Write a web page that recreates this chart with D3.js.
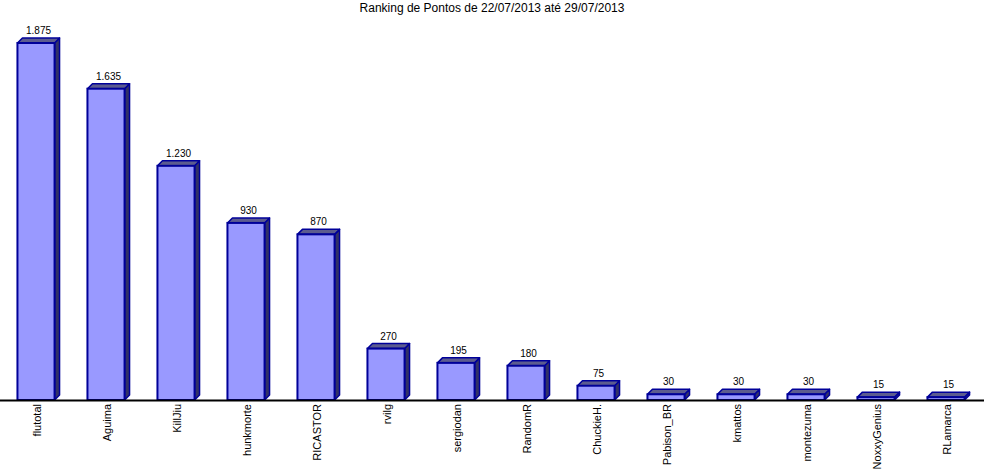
<!DOCTYPE html>
<html><head><meta charset="utf-8">
<script src="https://cdn.jsdelivr.net/npm/d3@7"></script>
<style>html,body{margin:0;padding:0;background:#fff;}svg{display:block;}</style>
</head><body>
<svg id="c" width="984" height="473"></svg>
<script>
const title = "Ranking de Pontos de 22/07/2013 até 29/07/2013";
const categories = ["flutotal","Aguima","KillJiu","hunkmorte","RICASTOR","rvilg","sergiodan","RandomR","ChuckieH.","Pabison_BR","kmattos","montezuma","NoxxyGenius","RLamarca"];
const values = [1875,1635,1230,930,870,270,195,180,75,30,30,30,15,15];

const W = 984, H = 473, baseY = 400, topY = 43, depth = 5;
const svg = d3.select("#c");
const x = d3.scaleBand().domain(categories).range([1, 981]).paddingInner(0.47).paddingOuter(0.235);
const y = d3.scaleLinear().domain([0, d3.max(values)]).range([baseY, topY]);
const fmt = d3.formatLocale({decimal: ",", thousands: ".", grouping: [3], currency: ["", ""]}).format(",d");

svg.append("text").attr("x", W/2).attr("y", 12).attr("text-anchor","middle")
  .attr("font-family","Liberation Sans, Arial, sans-serif").attr("font-size", 12).text(title);

const data = categories.map((c,i)=>({c, v: values[i]}));
const g = svg.append("g");
const bw = x.bandwidth();
const stroke = "#000099";
data.forEach(d=>{
  const x0 = x(d.c), x1 = x0 + bw, y1 = y(d.v), y0 = y(0);
  g.append("polygon").attr("points", [[x1,y1],[x1+depth,y1-depth],[x1+depth,y0-depth],[x1,y0]].join(" "))
    .attr("fill","#333366").attr("stroke",stroke).attr("stroke-width",1.5).attr("stroke-linejoin","round");
  g.append("polygon").attr("points", [[x0,y1],[x0+depth,y1-depth],[x1+depth,y1-depth],[x1,y1]].join(" "))
    .attr("fill","#5c5c8f").attr("stroke",stroke).attr("stroke-width",1.5).attr("stroke-linejoin","round");
  g.append("rect").attr("x", x0).attr("y", y1).attr("width", bw).attr("height", y0-y1)
    .attr("fill","#9999ff").attr("stroke",stroke).attr("stroke-width",2);
  svg.append("text").attr("x", x0 + bw/2 + depth/2).attr("y", y1 - depth - 4).attr("text-anchor","middle")
    .attr("font-family","Liberation Sans, Arial, sans-serif").attr("font-size", 10).text(fmt(d.v));
});

svg.append("line").attr("x1",0).attr("x2",W).attr("y1",baseY+0.5).attr("y2",baseY+0.5)
  .attr("stroke","#000").attr("stroke-width",2);

const ax = svg.append("g").attr("transform",`translate(0,${baseY})`)
  .call(d3.axisBottom(x).tickSize(0).tickPadding(0));
ax.select(".domain").remove();
ax.selectAll("text").attr("font-family","Liberation Sans, Arial, sans-serif").attr("font-size",11).attr("fill","#000")
  .attr("transform","rotate(-90)").attr("text-anchor","end").attr("dy","0.35em").attr("x",-4).attr("y",1);
</script>
</body></html>
